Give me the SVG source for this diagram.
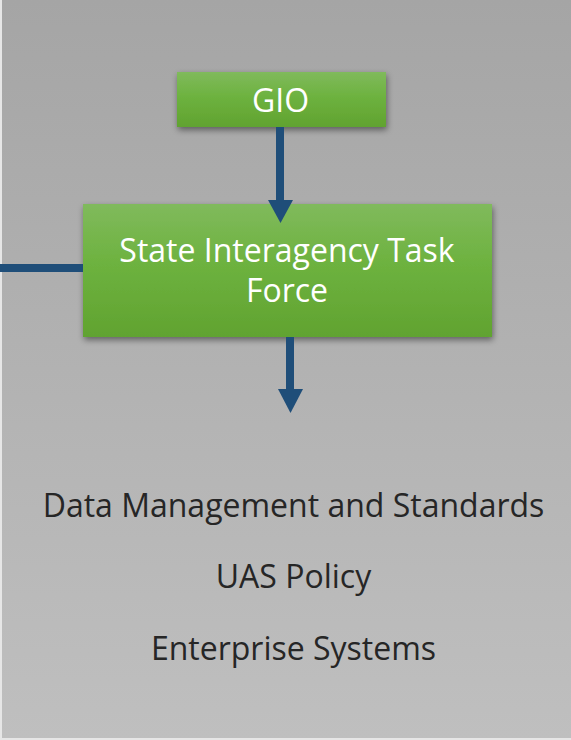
<svg xmlns="http://www.w3.org/2000/svg" width="571" height="740" viewBox="0 0 571 740">
<defs>
<linearGradient id="bg" x1="0" y1="0" x2="0" y2="1"><stop offset="0" stop-color="#a5a5a5"/><stop offset="1" stop-color="#bfbfbf"/></linearGradient>
<linearGradient id="gr" x1="0" y1="0" x2="0" y2="1"><stop offset="0" stop-color="#80ba5c"/><stop offset="0.45" stop-color="#6db23f"/><stop offset="1" stop-color="#61a330"/></linearGradient>
<filter id="sh" x="-10%" y="-20%" width="120%" height="150%"><feDropShadow dx="1" dy="3" stdDeviation="3" flood-color="#000" flood-opacity="0.45"/></filter>
</defs>
<style>
.box{fill:url(#gr);filter:url(#sh)}
.bt{fill:#fff;font-family:"Open Sans","Noto Sans",sans-serif;font-size:32px;text-anchor:middle}
.lt{fill:#262626;font-family:"Open Sans","Noto Sans",sans-serif;font-size:32px;text-anchor:middle}
.ln{stroke:#1f4e79;stroke-width:8;fill:none}
.ah{fill:#1f4e79}
</style>
<rect x="0" y="0" width="571" height="740" fill="#e6e6e6"/>
<rect x="2" y="0" width="569" height="738" fill="url(#bg)"/>
<g id="gio">
<rect class="box" x="177" y="72" width="209" height="55"/>
<text class="bt" x="280.5" y="112">GIO</text>
</g>
<g id="task-force">
<rect class="box" x="83" y="204" width="409" height="133"/>
<text class="bt" x="287" y="262">State Interagency Task</text>
<text class="bt" x="287" y="302">Force</text>
</g>
<g id="connectors">
<line class="ln" x1="280" y1="127" x2="280" y2="202"/>
<polygon class="ah" points="268,200 293,200 280.5,223"/>
<line class="ln" x1="0" y1="268" x2="83" y2="268"/>
<line class="ln" x1="290" y1="337" x2="290" y2="392"/>
<polygon class="ah" points="278,389 303,389 290.5,413"/>
</g>
<g id="list">
<text class="lt" x="293.5" y="517">Data Management and Standards</text>
<text class="lt" x="293.5" y="588">UAS Policy</text>
<text class="lt" x="293.5" y="660">Enterprise Systems</text>
</g>
</svg>
